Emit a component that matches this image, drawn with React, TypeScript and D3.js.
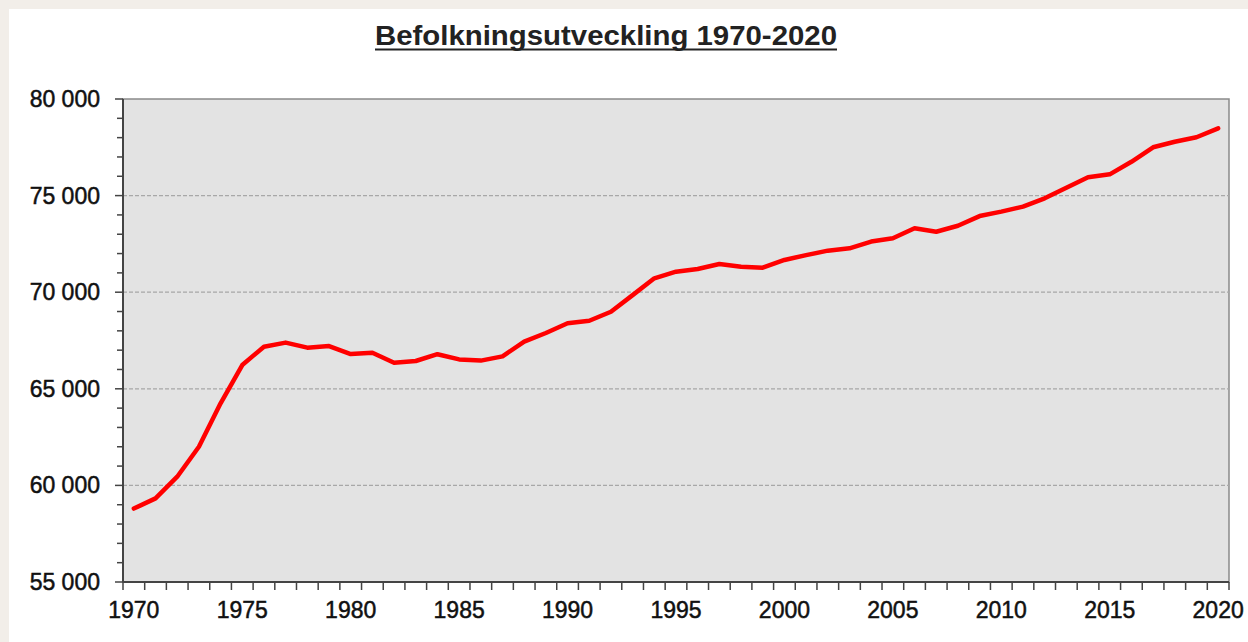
import { useEffect, useRef } from "react";
import * as d3 from "d3";

const years = d3.range(1970, 2021);
const population = [
  58800, 59330, 60450, 62000, 64250, 66230, 67180, 67390, 67130, 67210,
  66800, 66870, 66350, 66440, 66790, 66520, 66460, 66680, 67440, 67890,
  68390, 68520, 68990, 69850, 70720, 71060, 71200, 71460, 71320, 71270,
  71670, 71920, 72150, 72270, 72620, 72790, 73310, 73130, 73440, 73940,
  74170, 74430, 74860, 75410, 75950, 76100, 76750, 77500, 77790, 78020,
  78480,
];
const yTicks = [55000, 60000, 65000, 70000, 75000, 80000];
const xLabelYears = [1970, 1975, 1980, 1985, 1990, 1995, 2000, 2005, 2010, 2015, 2020];
const title = "Befolkningsutveckling 1970-2020";

export default function App() {
  const ref = useRef<SVGSVGElement>(null);

  useEffect(() => {
    if (!ref.current) return;
    const svg = d3.select(ref.current);
    svg.selectAll("*").remove();

    const W = 1248, H = 642;
    const plot = { left: 123, top: 99, right: 1229, bottom: 582 };
    const font = "'Liberation Sans', Arial, sans-serif";

    svg.append("rect").attr("width", W).attr("height", H).attr("fill", "#f2eee9");
    svg.append("rect").attr("x", 9).attr("y", 9).attr("width", W - 9).attr("height", H - 9).attr("fill", "#ffffff");

    // title
    svg.append("text")
      .attr("x", 606).attr("y", 45)
      .attr("text-anchor", "middle")
      .attr("font-family", font).attr("font-weight", "bold").attr("font-size", 28)
      .attr("textLength", 462).attr("lengthAdjust", "spacingAndGlyphs")
      .attr("fill", "#222")
      .text(title);
    svg.append("line")
      .attr("x1", 375).attr("x2", 837).attr("y1", 49.5).attr("y2", 49.5)
      .attr("stroke", "#222").attr("stroke-width", 2);

    const x = d3.scaleBand<number>().domain(years).range([plot.left, plot.right]);
    const y = d3.scaleLinear().domain([55000, 80000]).range([plot.bottom, plot.top]);

    // plot background with frame
    svg.append("rect")
      .attr("x", plot.left).attr("y", plot.top)
      .attr("width", plot.right - plot.left).attr("height", plot.bottom - plot.top)
      .attr("fill", "#e3e3e3")
      .attr("stroke", "#8a8a8a").attr("stroke-width", 1.5);

    // grid
    svg.append("g").selectAll("line")
      .data(yTicks.filter((t) => t > 55000 && t < 80000))
      .join("line")
      .attr("x1", plot.left).attr("x2", plot.right)
      .attr("y1", (d) => y(d)).attr("y2", (d) => y(d))
      .attr("stroke", "#a8a8a8").attr("stroke-width", 1.2)
      .attr("stroke-dasharray", "4 2");

    // y axis
    const minor = d3.range(55000, 80001, 1000);
    const yAxis = svg.append("g");
    yAxis.selectAll("line.tick")
      .data(minor)
      .join("line")
      .attr("class", "tick")
      .attr("x1", (d) => (d % 5000 === 0 ? 115 : 117)).attr("x2", plot.left)
      .attr("y1", (d) => y(d)).attr("y2", (d) => y(d))
      .attr("stroke", "#444").attr("stroke-width", 1.5);
    yAxis.append("line")
      .attr("x1", plot.left).attr("x2", plot.left)
      .attr("y1", plot.top).attr("y2", plot.bottom)
      .attr("stroke", "#444").attr("stroke-width", 2);
    yAxis.selectAll("text")
      .data(yTicks)
      .join("text")
      .attr("x", 100).attr("y", (d) => y(d))
      .attr("dy", "0.35em")
      .attr("text-anchor", "end")
      .attr("font-family", font).attr("font-size", 23)
      .attr("fill", "#111").attr("stroke", "#111").attr("stroke-width", 0.5)
      .text((d) => d3.format(",")(d).replace(",", " "));

    // x axis
    const bounds = years.map((yr) => x(yr)!).concat([plot.right]);
    const xAxis = svg.append("g");
    xAxis.selectAll("line.tick")
      .data(bounds)
      .join("line")
      .attr("class", "tick")
      .attr("x1", (d) => d).attr("x2", (d) => d)
      .attr("y1", plot.bottom).attr("y2", plot.bottom + 8)
      .attr("stroke", "#444").attr("stroke-width", 1.5);
    xAxis.append("line")
      .attr("x1", plot.left).attr("x2", plot.right)
      .attr("y1", plot.bottom).attr("y2", plot.bottom)
      .attr("stroke", "#444").attr("stroke-width", 2);
    xAxis.selectAll("text")
      .data(xLabelYears)
      .join("text")
      .attr("x", (d) => x(d)! + x.bandwidth() / 2)
      .attr("y", 618)
      .attr("text-anchor", "middle")
      .attr("font-family", font).attr("font-size", 23)
      .attr("fill", "#111").attr("stroke", "#111").attr("stroke-width", 0.5)
      .text((d) => String(d));

    // population line
    const line = d3.line<number>()
      .x((_, i) => x(years[i])! + x.bandwidth() / 2)
      .y((d) => y(d));
    svg.append("path")
      .datum(population)
      .attr("fill", "none")
      .attr("stroke", "#ff0000")
      .attr("stroke-width", 4.5)
      .attr("stroke-linejoin", "round")
      .attr("stroke-linecap", "round")
      .attr("d", line);
  }, []);

  return (
    <svg
      ref={ref}
      width={1248}
      height={642}
      style={{ position: "absolute", left: 0, top: 0 }}
    />
  );
}
